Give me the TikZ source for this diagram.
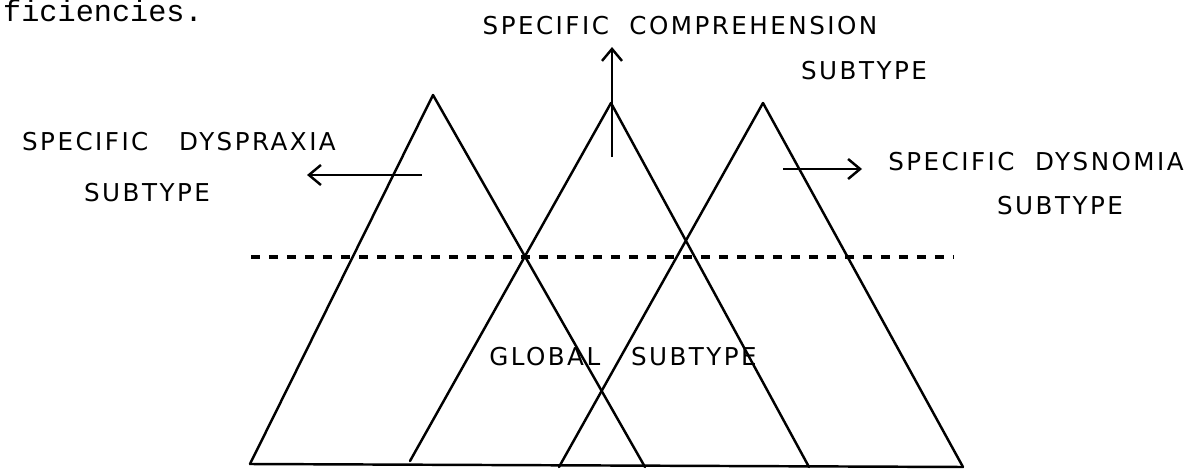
\documentclass[tikz,border=0pt]{standalone}
\usepackage{fontspec}
\setmonofont{Liberation Mono}
\newfontfamily\handfont[LetterSpace=10]{DejaVu Sans}
\usetikzlibrary{arrows.meta}
\begin{document}
\begin{tikzpicture}[x=0.02cm,y=-0.02cm,
  line width=1.4pt,
  hand/.style={font=\handfont\fontsize{14}{16}\selectfont, inner sep=0pt},
  leg/.style={line width=1.4pt, line cap=round, line join=round},
  guide/.style={line width=1.8pt, dash pattern=on 0.18cm off 0.18cm},
  arr/.style={-{Straight Barb[length=0.24cm,width=0.4cm]}, line width=1.4pt}]
\useasboundingbox (0,0) rectangle (1201,470);
% text fragment at top-left
\node[font=\ttfamily\fontsize{17.2}{20}\selectfont, anchor=base west, inner sep=0pt] (frag) at (2,21) {ficiencies.};
% triangle corners
\coordinate (A1) at (433,95);  \coordinate (L1) at (250,464); \coordinate (R1) at (645,467);
\coordinate (A2) at (611,103); \coordinate (L2) at (410,461); \coordinate (R2) at (809,467);
\coordinate (A3) at (763,103); \coordinate (L3) at (559,467); \coordinate (R3) at (963,467);
\draw[leg] (L1) -- (A1) -- (R1);
\draw[leg] (L2) -- (A2) -- (R2);
\draw[leg] (L3) -- (A3) -- (R3);
\draw[leg] (L1) -- (R3);
% dashed threshold line
\coordinate (D0) at (251,257); \coordinate (D1) at (954,257);
\draw[guide] (D0) -- (D1);
% arrows
\coordinate (p1) at (422,175); \coordinate (q1) at (307,175);
\coordinate (p2) at (612,157); \coordinate (q2) at (612,47);
\coordinate (p3) at (783,169); \coordinate (q3) at (862,169);
\draw[arr] (p1) -- (q1);
\draw[arr] (p2) -- (q2);
\draw[arr] (p3) -- (q3);
% labels
\node[hand] (comp) at (680,26) {SPECIFIC\ \ COMPREHENSION};
\node[hand] (compsub) at (864,71) {SUBTYPE};
\node[hand] (dysp) at (179,142) {SPECIFIC\ \ \ DYSPRAXIA};
\node[hand] (dyspsub) at (147,193) {SUBTYPE};
\node[hand] (dysn) at (1036,162) {SPECIFIC\ \ DYSNOMIA};
\node[hand] (dysnsub) at (1060,206) {SUBTYPE};
\node[hand] (glob) at (623,357) {GLOBAL\ \ \ SUBTYPE};
\end{tikzpicture}
\end{document}
